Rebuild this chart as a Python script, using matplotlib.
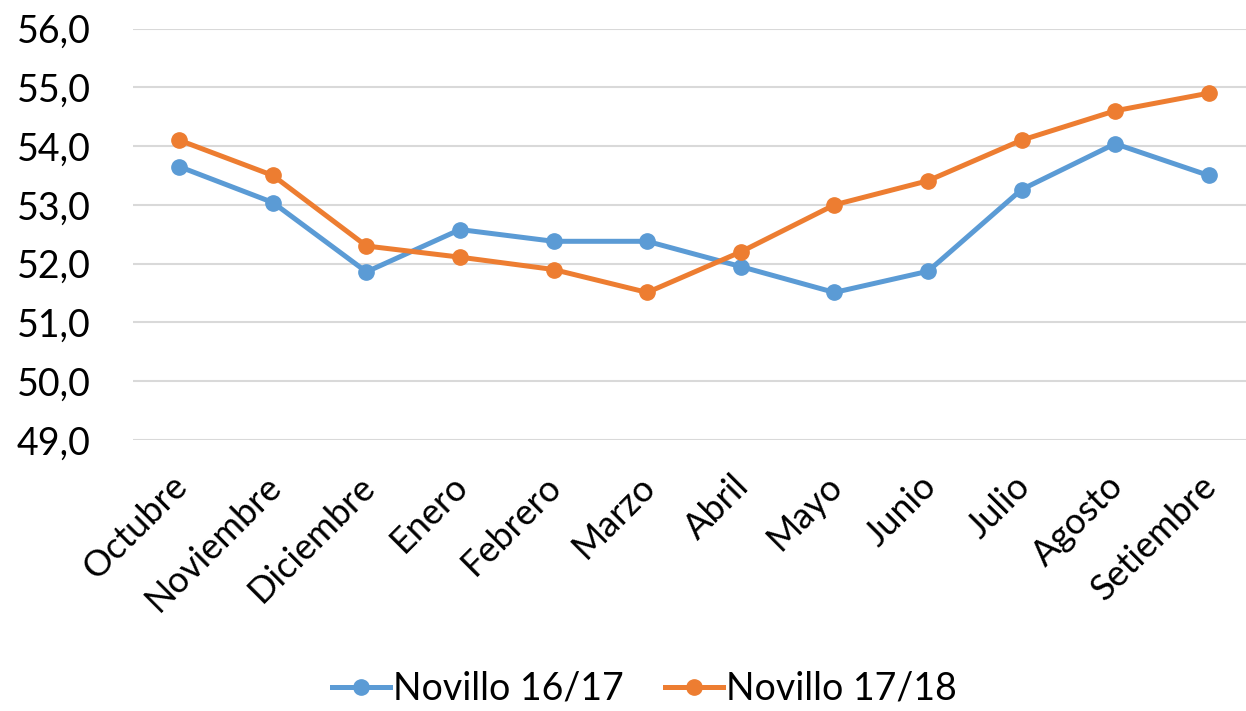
import matplotlib.pyplot as plt
from matplotlib.ticker import FuncFormatter
from matplotlib.transforms import ScaledTranslation

plt.rcParams['font.family'] = ['Lato', 'DejaVu Sans']

meses = ['Octubre', 'Noviembre', 'Diciembre', 'Enero', 'Febrero', 'Marzo',
         'Abril', 'Mayo', 'Junio', 'Julio', 'Agosto', 'Setiembre']
novillo_1617 = [53.65, 53.04, 51.86, 52.58, 52.38, 52.38, 51.95, 51.51, 51.87, 53.26, 54.04, 53.50]
novillo_1718 = [54.10, 53.50, 52.30, 52.11, 51.90, 51.51, 52.20, 53.00, 53.41, 54.10, 54.60, 54.90]

fig = plt.figure(figsize=(12.46, 7.11), dpi=100)
ax = fig.add_axes([132.5 / 1246, 271 / 711, 1123 / 1246, 411.5 / 711])

x = range(len(meses))
ax.plot(x, novillo_1617, color='#5B9BD5', lw=3.6, marker='o', ms=11, label='Novillo 16/17')
ax.plot(x, novillo_1718, color='#ED7D31', lw=3.6, marker='o', ms=11, label='Novillo 17/18')

ax.set_xlim(-0.5, 11.5)
ax.set_ylim(49, 56)
ax.set_yticks(range(49, 57))
ax.yaxis.set_major_formatter(FuncFormatter(lambda v, p: f'{v:.1f}'.replace('.', ',')))
ax.grid(axis='y', color='#D9D9D9', lw=1.5)
ax.set_axisbelow(True)
for s in ax.spines.values():
    s.set_visible(False)

ax.set_xticks(list(x))
ax.set_xticklabels(meses, rotation=45, ha='right', rotation_mode='anchor')
ax.tick_params(axis='y', length=0, pad=30, labelsize=27)
ax.tick_params(axis='x', length=0, pad=21, labelsize=26)
shift = ScaledTranslation(-9 / 100, 0, fig.dpi_scale_trans)
for lbl in ax.get_xticklabels():
    lbl.set_transform(lbl.get_transform() + shift)

ax.legend(loc='center', bbox_to_anchor=(0.456, -0.605), ncol=2, frameon=False,
          fontsize=27, handlelength=1.55, handletextpad=0.08, columnspacing=1.1)

fig.savefig('out.png', dpi=100)
